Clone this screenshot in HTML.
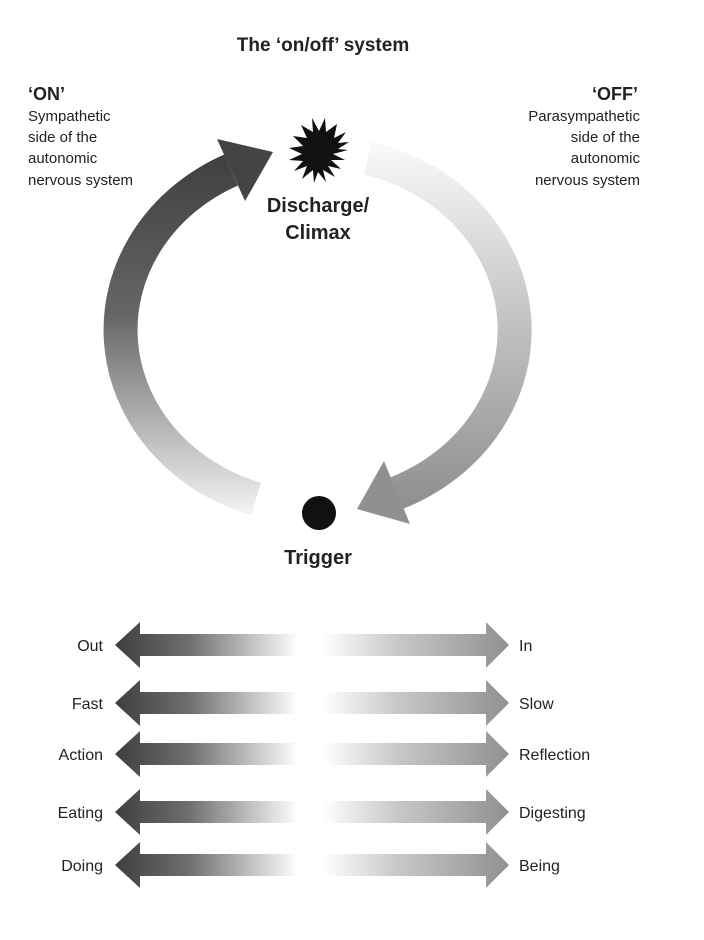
<!DOCTYPE html>
<html><head><meta charset="utf-8"><style>
body{margin:0;background:#fff;}
svg{display:block;font-family:"Liberation Sans",Arial,sans-serif;}
</style></head><body>
<svg width="704" height="940" viewBox="0 0 704 940">
<defs>
<linearGradient id="gl" gradientUnits="userSpaceOnUse" x1="0" y1="150" x2="0" y2="515">
<stop offset="0" stop-color="#3e3e3e"/><stop offset="0.45" stop-color="#666"/><stop offset="1" stop-color="#f4f4f4"/></linearGradient>
<linearGradient id="gr" gradientUnits="userSpaceOnUse" x1="0" y1="150" x2="0" y2="510">
<stop offset="0" stop-color="#f8f8f8"/><stop offset="0.5" stop-color="#c0c0c2"/><stop offset="1" stop-color="#8e8e90"/></linearGradient>
<linearGradient id="hl" gradientUnits="userSpaceOnUse" x1="115" y1="0" x2="298" y2="0">
<stop offset="0" stop-color="#3e3e3e"/><stop offset="0.4" stop-color="#6e6e6e"/><stop offset="1" stop-color="#ffffff"/></linearGradient>
<linearGradient id="hr" gradientUnits="userSpaceOnUse" x1="323" y1="0" x2="509" y2="0">
<stop offset="0" stop-color="#ffffff"/><stop offset="0.4" stop-color="#c8c8ca"/><stop offset="1" stop-color="#909092"/></linearGradient>
<g id="arr">
<polygon points="115,0 140,-23 140,-11 298,-11 298,11 140,11 140,23" fill="url(#hl)"/>
<polygon points="509,0 486,-23 486,-11 323,-11 323,11 486,11 486,23" fill="url(#hr)"/>
</g>
</defs>
<text x="323" y="51" font-size="19" font-weight="bold" text-anchor="middle" fill="#222">The ‘on/off’ system</text>
<g fill="#222" font-size="15">
<text x="28" y="100" font-size="18" font-weight="bold">‘ON’</text>
<text x="28" y="121">Sympathetic</text>
<text x="28" y="142">side of the</text>
<text x="28" y="163">autonomic</text>
<text x="28" y="185">nervous system</text>
</g>
<g fill="#222" font-size="15" text-anchor="end">
<text x="638" y="100" font-size="18" font-weight="bold">‘OFF’</text>
<text x="640" y="121">Parasympathetic</text>
<text x="640" y="142">side of the</text>
<text x="640" y="163">autonomic</text>
<text x="640" y="185">nervous system</text>
</g>
<path d="M256,499 A197,178 0 0 1 231,170" fill="none" stroke="url(#gl)" stroke-width="34"/>
<polygon points="273,152 217,139 245,201" fill="#444"/>
<path d="M368,158 A197,178 0 0 1 397,493" fill="none" stroke="url(#gr)" stroke-width="34"/>
<polygon points="357,509 384,461 410,524" fill="#909092"/>
<polygon fill="#111" points="
348,150 333,154 345,160 331,160 341,169 328,166 335,177 323,170 326,182 318,172 314,183 313,170 302,179 307,166 294,171 303,161 289,160 302,154 289,148 303,146 293,136 307,138 301,125 313,132 312,118 319,131 325,118 326,132 337,124 334,138 346,132 338,143 349,142 338,149"/>
<circle cx="318" cy="150" r="15" fill="#111"/>
<circle cx="319" cy="513" r="17" fill="#111"/>
<text x="318" y="212" font-size="20" font-weight="bold" text-anchor="middle" fill="#222">Discharge/</text>
<text x="318" y="239" font-size="20" font-weight="bold" text-anchor="middle" fill="#222">Climax</text>
<text x="318" y="564" font-size="20" font-weight="bold" text-anchor="middle" fill="#222">Trigger</text>
<use href="#arr" transform="translate(0,645)"/>
<use href="#arr" transform="translate(0,703)"/>
<use href="#arr" transform="translate(0,754)"/>
<use href="#arr" transform="translate(0,812)"/>
<use href="#arr" transform="translate(0,865)"/>
<g font-size="16" fill="#222" text-anchor="end">
<text x="103" y="651">Out</text>
<text x="103" y="709">Fast</text>
<text x="103" y="760">Action</text>
<text x="103" y="818">Eating</text>
<text x="103" y="871">Doing</text>
</g>
<g font-size="16" fill="#222">
<text x="519" y="651">In</text>
<text x="519" y="709">Slow</text>
<text x="519" y="760">Reflection</text>
<text x="519" y="818">Digesting</text>
<text x="519" y="871">Being</text>
</g>
</svg>
</body></html>
